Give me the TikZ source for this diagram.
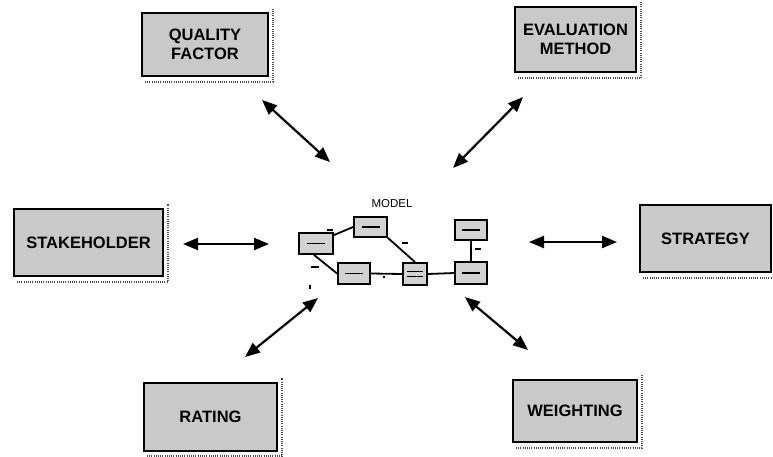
\documentclass[tikz,border=0pt]{standalone}
\usepackage{fontspec}
\setmainfont{Liberation Sans}
\usetikzlibrary{arrows.meta}
\begin{document}
\begin{tikzpicture}[x=1pt,y=-1pt,
  entity/.style={draw=black, line width=2pt, fill=gray!42, align=center,
    inner sep=0pt, font=\fontsize{16.5}{18.5}\selectfont\bfseries},
  link/.style={line width=2.2pt, {Triangle[length=15pt,width=12pt]}-{Triangle[length=15pt,width=12pt]}},
  shade/.style={gray!60!black, line width=2.2pt, dash pattern=on 1pt off 1.2pt},
  mini/.style={draw=black, line width=1.8pt, fill=gray!35, inner sep=0pt,
    path picture={\draw[line width=1.6pt]
      ([xshift=-9pt]path picture bounding box.center) --
      ([xshift=9pt]path picture bounding box.center);}},
  minid/.style={draw=black, line width=1.8pt, fill=gray!35, inner sep=0pt,
    path picture={\draw[line width=1.3pt]
      ([xshift=-8pt,yshift=2.5pt]path picture bounding box.center) --
      ([xshift=8pt,yshift=2.5pt]path picture bounding box.center)
      ([xshift=-8pt,yshift=-2.5pt]path picture bounding box.center) --
      ([xshift=8pt,yshift=-2.5pt]path picture bounding box.center);}},
  wire/.style={line width=1.8pt},
  tick/.style={line width=1.2pt}]

\useasboundingbox[fill=white] (0,0) rectangle (773,456);

% drop shadow along bottom and right of an entity box
\newcommand\entshadow[1]{%
  \draw[shade] ([xshift=4pt,yshift=-5pt]#1.south west) --
    ([xshift=4pt,yshift=-5pt]#1.south east) --
    ([xshift=4pt,yshift=4pt]#1.north east);}

% outer entities
\node[entity, minimum width=126, minimum height=63] (qf) at (205,44.5) {QUALITY\\FACTOR};
\node[entity, minimum width=121, minimum height=65] (em) at (575.5,39.5) {EVALUATION\\METHOD};
\node[entity, minimum width=149, minimum height=67] (sh) at (88.5,242.5) {STAKEHOLDER};
\node[entity, minimum width=131, minimum height=67] (st) at (705.5,238.5) {STRATEGY};
\node[entity, minimum width=133, minimum height=68] (ra) at (210.5,416.5) {RATING};
\node[entity, minimum width=124, minimum height=62] (we) at (575,411) {WEIGHTING};
\entshadow{qf}\entshadow{em}\entshadow{sh}\entshadow{st}\entshadow{ra}\entshadow{we}

% central model
\node[font=\fontsize{11.5}{12}\selectfont] (mlabel) at (392,204) {MODEL};
\node[mini, minimum width=34, minimum height=21] (ma) at (316,243.5) {};
\node[mini, minimum width=33, minimum height=20] (mb) at (370.5,227) {};
\node[mini, minimum width=32, minimum height=21] (mc) at (354,273.5) {};
\node[minid, minimum width=24, minimum height=22] (md) at (415,274) {};
\node[mini, minimum width=32, minimum height=22] (me) at (471,273) {};
\node[mini, minimum width=32, minimum height=20] (mf) at (471,230) {};
\draw[wire] ([yshift=-3pt]ma.north east) -- (mb.west);
\draw[wire] ([xshift=-2pt]ma.south) -- (mc.west);
\draw[wire] (mb.south east) -- (md.north);
\draw[wire] (mc.east) -- (md.west);
\draw[wire] (md.east) -- (me.west);
\draw[wire] (mf.south) -- (me.north);
% small role marks on the model links
\coordinate (k1) at (330,230);
\coordinate (k2) at (315,267);
\coordinate (k3) at (405,243);
\coordinate (k4) at (384,277);
\coordinate (k5) at (478,249);
\coordinate (k6) at (310,287);
\draw[tick] ([xshift=-3pt]k1) -- ([xshift=3pt]k1);
\draw[tick] ([xshift=-4pt]k2) -- ([xshift=4pt]k2);
\draw[tick] ([xshift=-3pt]k3) -- ([xshift=3pt]k3);
\draw[tick] ([xshift=-1pt]k4) -- ([xshift=1pt]k4);
\draw[tick] ([xshift=-3pt]k5) -- ([xshift=3pt]k5);
\draw[tick] ([yshift=-2pt]k6) -- ([yshift=2pt]k6);

% arrow end points between entities and model
\coordinate (aq1) at (262,100); \coordinate (aq2) at (330,162);
\coordinate (ae1) at (523,97);  \coordinate (ae2) at (453,168);
\coordinate (as1) at (183,244); \coordinate (as2) at (269,244);
\coordinate (at1) at (529,242); \coordinate (at2) at (617,242);
\coordinate (ar1) at (245,357); \coordinate (ar2) at (318,298);
\coordinate (aw1) at (465,297); \coordinate (aw2) at (528,350);
\draw[link] (aq1) -- (aq2);
\draw[link] (ae1) -- (ae2);
\draw[link] (as1) -- (as2);
\draw[link] (at1) -- (at2);
\draw[link] (ar1) -- (ar2);
\draw[link] (aw1) -- (aw2);
\end{tikzpicture}
\end{document}
